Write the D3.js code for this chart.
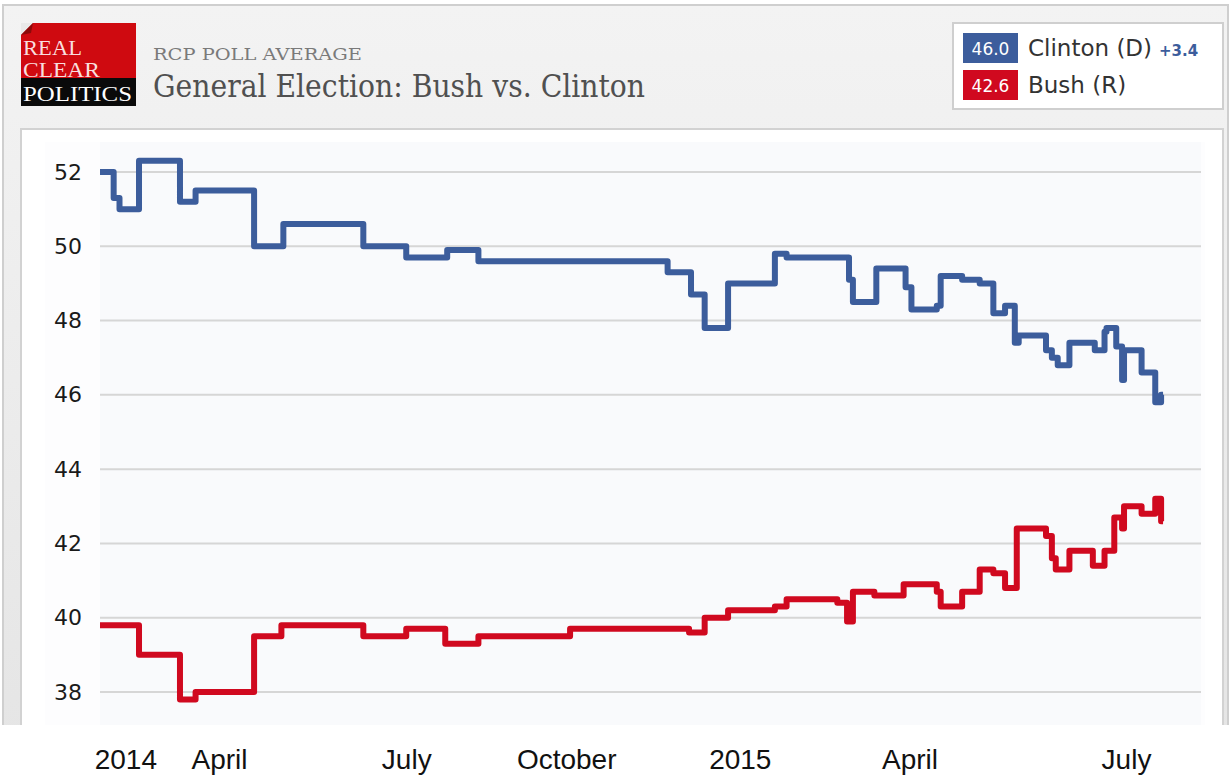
<!DOCTYPE html>
<html>
<head>
<meta charset="utf-8">
<script src="https://cdn.jsdelivr.net/npm/d3@7"></script>
<style>
  html, body { margin: 0; padding: 0; background: #ffffff; }
  svg { display: block; }
</style>
</head>
<body>
<svg id="chart" width="1231" height="776"></svg>
<script>
// ---------------- DATA ----------------
const clintonDates = ["2014-01-31","2014-02-07","2014-02-10","2014-02-20","2014-03-13","2014-03-21","2014-04-20","2014-05-05","2014-06-15","2014-07-07","2014-07-28","2014-08-13","2014-11-18","2014-11-30","2014-12-07","2014-12-19","2015-01-12","2015-01-18","2015-02-19","2015-02-21","2015-03-05","2015-03-20","2015-03-23","2015-04-05","2015-04-07","2015-04-18","2015-04-27","2015-05-04","2015-05-10","2015-05-15","2015-05-17","2015-05-31","2015-06-03","2015-06-06","2015-06-12","2015-06-25","2015-06-30","2015-07-01","2015-07-06","2015-07-09","2015-07-10","2015-07-19","2015-07-26","2015-07-29","2015-07-30"];
const clintonValues = [52.0,51.3,51.0,52.3,51.2,51.5,50.0,50.6,50.0,49.7,49.9,49.6,49.3,48.7,47.8,49.0,49.8,49.7,49.1,48.5,49.4,48.9,48.3,48.4,49.2,49.1,49.0,48.2,48.4,47.4,47.6,47.2,47.0,46.8,47.4,47.2,47.7,47.8,47.3,46.4,47.2,46.6,45.8,46.0,46.0];

const bushDates = ["2014-01-31","2014-02-20","2014-03-13","2014-03-21","2014-04-20","2014-05-04","2014-06-15","2014-07-07","2014-07-27","2014-08-13","2014-09-29","2014-11-29","2014-12-07","2014-12-19","2015-01-12","2015-01-18","2015-02-13","2015-02-18","2015-02-21","2015-03-04","2015-03-19","2015-04-05","2015-04-07","2015-04-18","2015-04-27","2015-05-04","2015-05-10","2015-05-16","2015-05-31","2015-06-03","2015-06-05","2015-06-12","2015-06-24","2015-06-30","2015-07-05","2015-07-09","2015-07-10","2015-07-19","2015-07-26","2015-07-29","2015-07-30"];
const bushValues = [39.8,39.0,37.8,38.0,39.5,39.8,39.5,39.7,39.3,39.5,39.7,39.6,40.0,40.2,40.3,40.5,40.4,39.9,40.7,40.6,40.9,40.7,40.3,40.7,41.3,41.2,40.8,42.4,42.2,41.6,41.3,41.8,41.4,41.8,42.7,42.4,43.0,42.8,43.2,42.6,42.6];

const yTickValues = [38, 40, 42, 44, 46, 48, 50, 52];
const xTickLabels = ["2014","April","July","October","2015","April","July"];
const xTickDates = ["2014-02-13","2014-04-02","2014-07-07","2014-09-27","2014-12-25","2015-03-22","2015-07-11"];

const legendNames = ["Clinton (D)", "Bush (R)"];
const legendValues = ["46.0", "42.6"];
const spreadLabel = "+3.4";
const logoWords = ["REAL", "CLEAR", "POLITICS"];
const kicker = "RCP POLL AVERAGE";
const title = "General Election: Bush vs. Clinton";

// ---------------- SETUP ----------------
const parse = d3.timeParse("%Y-%m-%d");
const BLUE = "#3c5d9c", RED = "#d0091f";
const svg = d3.select("#chart");

const defs = svg.append("defs");
const hg = defs.append("linearGradient").attr("id","hdr").attr("x1",0).attr("y1",0).attr("x2",0).attr("y2",1);
hg.append("stop").attr("offset","0%").attr("stop-color","#f3f3f3");
hg.append("stop").attr("offset","100%").attr("stop-color","#e4e4e4");

// outer frame and panel
svg.append("rect").attr("x",3).attr("y",5).attr("width",1225).attr("height",800)
  .attr("fill","url(#hdr)").attr("stroke","#cfcfcf").attr("stroke-width",2);
svg.append("rect").attr("x",21).attr("y",129).attr("width",1202).attr("height",700)
  .attr("fill","#ffffff").attr("stroke","#d2d2d2").attr("stroke-width",2);
svg.append("rect").attr("x",45).attr("y",142).attr("width",1160).attr("height",600).attr("fill","#fdfdfe");

// plot area background
const plot = {left:100, right:1201, top:142, bottom:725};
svg.append("rect").attr("x",plot.left).attr("y",plot.top)
  .attr("width",plot.right-plot.left).attr("height",plot.bottom-plot.top).attr("fill","#f9fafc");

// scales
const x = d3.scaleTime().domain([parse("2014-01-31"), parse("2015-07-31")]).range([100, 1165]);
const y = d3.scaleLinear().domain([38, 52]).range([692, 172]);

// gridlines
svg.append("g").selectAll("line").data(yTickValues).join("line")
  .attr("x1",plot.left).attr("x2",plot.right)
  .attr("y1",d=>y(d)).attr("y2",d=>y(d))
  .attr("stroke","#d6d6d6").attr("stroke-width",2);

// y axis
const yAxis = svg.append("g").attr("transform",`translate(${plot.left},0)`)
  .call(d3.axisLeft(y).tickValues(yTickValues).tickSize(0).tickPadding(18).tickFormat(d3.format("d")));
yAxis.select(".domain").remove();
yAxis.selectAll("text").attr("font-family","'DejaVu Sans', sans-serif").attr("font-size",22).attr("fill","#1a1a1a");

// lines
const line = d3.line().x(d=>x(d[0])).y(d=>y(d[1])).curve(d3.curveStepAfter);
const clinton = clintonDates.map((d,i)=>[parse(d), clintonValues[i]]);
const bush = bushDates.map((d,i)=>[parse(d), bushValues[i]]);
svg.append("path").datum(clinton).attr("d",line).attr("fill","none")
  .attr("stroke",BLUE).attr("stroke-width",6).attr("stroke-linejoin","round");
svg.append("path").datum(bush).attr("d",line).attr("fill","none")
  .attr("stroke",RED).attr("stroke-width",6).attr("stroke-linejoin","round");

// bottom white strip with month labels
svg.append("rect").attr("x",0).attr("y",725).attr("width",1231).attr("height",51).attr("fill","#ffffff");
const xAxis = svg.append("g").attr("transform","translate(0,740)")
  .call(d3.axisBottom(x).tickValues(xTickDates.map(parse)).tickSize(0).tickPadding(0)
        .tickFormat((d,i)=>xTickLabels[i]));
xAxis.select(".domain").remove();
xAxis.selectAll("text").attr("font-family","'Liberation Sans', Arial, sans-serif")
  .attr("font-size",28).attr("fill","#111").attr("dy","1.05em");

// ---------------- HEADER ----------------
const logo = svg.append("g");
logo.append("rect").attr("x",21).attr("y",23).attr("width",115).attr("height",55).attr("fill","#cf0a10");
logo.append("rect").attr("x",21).attr("y",78).attr("width",115).attr("height",28).attr("fill","#0a0a0a");
logo.append("path").attr("d","M21,23 L33,23 L21,35 Z").attr("fill","#e9e9e9");
logo.append("path").attr("d","M33,23 L21,35 L31,33 Z").attr("fill","#8c0a0a");
const logoBaselines = [55, 77, 101];
const logoWidths = [59, 77, 109];
logo.selectAll("text.lw").data(logoWords).join("text").attr("class","lw")
  .attr("x",23).attr("y",(d,i)=>logoBaselines[i]).text(d=>d)
  .attr("font-family","'Liberation Serif', serif").attr("font-size",20)
  .attr("textLength",(d,i)=>logoWidths[i]).attr("lengthAdjust","spacingAndGlyphs")
  .attr("fill",(d,i)=> i<2 ? "#f9dede" : "#ffffff");

svg.append("text").attr("x",153).attr("y",60).text(kicker)
  .attr("font-family","'DejaVu Serif', Georgia, serif").attr("font-size",17)
  .attr("textLength",209).attr("lengthAdjust","spacingAndGlyphs").attr("fill","#7a7a7a");
svg.append("text").attr("x",153).attr("y",97).text(title)
  .attr("font-family","'DejaVu Serif', Georgia, serif").attr("font-size",32)
  .attr("textLength",492).attr("lengthAdjust","spacingAndGlyphs").attr("fill","#505050");

// legend
const lg = svg.append("g");
lg.append("rect").attr("x",953).attr("y",23).attr("width",270).attr("height",86)
  .attr("fill","#ffffff").attr("stroke","#cfcfcf").attr("stroke-width",2);
const rows = legendNames.map((n,i)=>({name:n, val:legendValues[i], color: i===0?BLUE:RED, y: 33 + i*37}));
const rg = lg.selectAll("g.row").data(rows).join("g").attr("class","row");
rg.append("rect").attr("x",963).attr("y",d=>d.y).attr("width",55).attr("height",30).attr("fill",d=>d.color);
rg.append("text").attr("x",990.5).attr("y",d=>d.y+21.5).attr("text-anchor","middle").text(d=>d.val)
  .attr("font-family","'DejaVu Sans', sans-serif").attr("font-size",17).attr("fill","#fff");
rg.append("text").attr("x",1028).attr("y",d=>d.y+23).text(d=>d.name)
  .attr("font-family","'DejaVu Sans', sans-serif").attr("font-size",23).attr("fill","#333");
lg.append("text").attr("x",1159).attr("y",56).text(spreadLabel)
  .attr("font-family","'DejaVu Sans', sans-serif").attr("font-size",15).attr("font-weight","bold").attr("fill",BLUE);
</script>
</body>
</html>
